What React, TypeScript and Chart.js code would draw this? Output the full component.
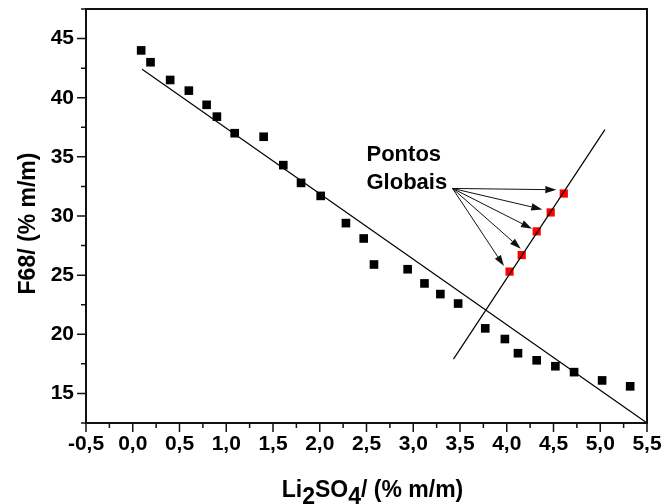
import React, { useEffect, useRef } from 'react';
import { Chart, registerables } from 'chart.js';

Chart.register(...registerables);

// ---- data ----
const X_BLACK = [0.09, 0.19, 0.40, 0.60, 0.79, 0.90, 1.09, 1.40, 1.61, 1.80, 2.01, 2.28, 2.47, 2.58, 2.94, 3.12, 3.29, 3.48, 3.77, 3.98, 4.12, 4.32, 4.52, 4.72, 5.02, 5.32];
const Y_BLACK = [44.0, 43.0, 41.5, 40.6, 39.4, 38.4, 37.0, 36.7, 34.3, 32.8, 31.7, 29.4, 28.1, 25.9, 25.5, 24.3, 23.4, 22.6, 20.5, 19.6, 18.4, 17.8, 17.3, 16.8, 16.1, 15.6];
const X_RED = [4.03, 4.16, 4.32, 4.47, 4.61];
const Y_RED = [25.3, 26.7, 28.7, 30.3, 31.9];
const FIT_X = [0.10, 5.5];
const FIT_Y = [42.4, 12.5];
const TIE_X = [3.43, 5.05];
const TIE_Y = [17.9, 37.3];
const ARROW_FROM_X = 3.42;
const ARROW_FROM_Y = 32.33;
const ARROW_TO_X = [4.53, 4.38, 4.27, 4.15, 3.97];
const ARROW_TO_Y = [32.22, 30.56, 28.93, 27.24, 25.77];
const X_TICKS = [-0.5, 0, 0.5, 1, 1.5, 2, 2.5, 3, 3.5, 4, 4.5, 5, 5.5];
const Y_TICKS = [15, 20, 25, 30, 35, 40, 45];
const X_MIN = -0.5, X_MAX = 5.5;
const Y_MIN = 12.5, Y_MAX = 47.5;
const NOTE_LINES = ['Pontos', 'Globais'];
const NOTE_X = 2.5;
const NOTE_Y = [34.69, 32.28];
const Y_TITLE = 'F68/ (% m/m)';
const X_TITLE_PARTS = [
  { t: 'Li', sub: false },
  { t: '2', sub: true },
  { t: 'SO', sub: false },
  { t: '4', sub: true },
  { t: '/ (% m/m)', sub: false },
];

const FAMILY = "'Liberation Sans', Arial, Helvetica, sans-serif";
const toPts = (xs: number[], ys: number[]) => xs.map((x, i) => ({ x, y: ys[i] }));
const fmt = (v: number) => v.toFixed(1).replace('.', ',');

const decorPlugin = {
  id: 'decor',
  afterDatasetsDraw(chart: any) {
    const { ctx, chartArea: a, scales } = chart;
    const xs = scales.x, ys = scales.y;
    ctx.save();
    ctx.strokeStyle = '#111';
    ctx.fillStyle = '#111';
    // frame
    ctx.lineWidth = 2;
    ctx.strokeRect(a.left, a.top, a.right - a.left, a.bottom - a.top);
    // x ticks (major + minor)
    ctx.lineWidth = 1.5;
    ctx.beginPath();
    X_TICKS.forEach((v, i) => {
      const px = xs.getPixelForValue(v);
      ctx.moveTo(px, a.bottom);
      ctx.lineTo(px, a.bottom + 9);
      if (i < X_TICKS.length - 1) {
        const m = xs.getPixelForValue((v + X_TICKS[i + 1]) / 2);
        ctx.moveTo(m, a.bottom);
        ctx.lineTo(m, a.bottom + 5);
      }
    });
    // y ticks
    const yMinor = [Y_MIN, Y_MAX];
    Y_TICKS.forEach((v, i) => {
      const py = ys.getPixelForValue(v);
      ctx.moveTo(a.left, py);
      ctx.lineTo(a.left - 9, py);
      if (i < Y_TICKS.length - 1) yMinor.push((v + Y_TICKS[i + 1]) / 2);
    });
    yMinor.forEach((v) => {
      const py = ys.getPixelForValue(v);
      ctx.moveTo(a.left, py);
      ctx.lineTo(a.left - 5, py);
    });
    ctx.stroke();

    // arrows
    const ox = xs.getPixelForValue(ARROW_FROM_X);
    const oy = ys.getPixelForValue(ARROW_FROM_Y);
    ctx.lineWidth = 1;
    ARROW_TO_X.forEach((tx0, i) => {
      const tx = xs.getPixelForValue(tx0);
      const ty = ys.getPixelForValue(ARROW_TO_Y[i]);
      const ang = Math.atan2(ty - oy, tx - ox);
      const L = 11, W = 3.6;
      const bx = tx - L * Math.cos(ang), by = ty - L * Math.sin(ang);
      ctx.beginPath();
      ctx.moveTo(ox, oy);
      ctx.lineTo(bx, by);
      ctx.stroke();
      ctx.beginPath();
      ctx.moveTo(tx, ty);
      ctx.lineTo(bx + W * Math.sin(ang), by - W * Math.cos(ang));
      ctx.lineTo(bx - W * Math.sin(ang), by + W * Math.cos(ang));
      ctx.closePath();
      ctx.fill();
    });

    // note text
    ctx.fillStyle = '#000';
    ctx.font = `bold 22px ${FAMILY}`;
    ctx.textAlign = 'left';
    ctx.textBaseline = 'alphabetic';
    NOTE_LINES.forEach((t, i) => {
      ctx.fillText(t, xs.getPixelForValue(NOTE_X), ys.getPixelForValue(NOTE_Y[i]));
    });

    // y title
    ctx.save();
    ctx.font = `bold 23px ${FAMILY}`;
    ctx.translate(34.5, (a.top + a.bottom) / 2 + 7.5);
    ctx.rotate(-Math.PI / 2);
    ctx.textAlign = 'center';
    ctx.fillText(Y_TITLE, 0, 0);
    ctx.restore();

    // x title with subscripts
    ctx.font = `bold 23px ${FAMILY}`;
    const widths = X_TITLE_PARTS.map((p) => ctx.measureText(p.t).width);
    const total = widths.reduce((s, w) => s + w, 0);
    let cx = (a.left + a.right) / 2 + 6 - total / 2;
    const base = a.bottom + 73.5;
    X_TITLE_PARTS.forEach((p, i) => {
      ctx.fillText(p.t, cx, p.sub ? base + 7.5 : base);
      cx += widths[i];
    });
    ctx.restore();
  },
};

export default function App() {
  const ref = useRef<HTMLCanvasElement | null>(null);
  useEffect(() => {
    if (!ref.current) return;
    const tickFont = { family: FAMILY, size: 21, weight: 'bold' as const };
    const chart = new Chart(ref.current, {
      type: 'scatter',
      data: {
        datasets: [
          {
            type: 'line',
            data: toPts(FIT_X, FIT_Y),
            borderColor: '#000',
            borderWidth: 1.2,
            pointRadius: 0,
            fill: false,
          },
          {
            type: 'line',
            data: toPts(TIE_X, TIE_Y),
            borderColor: '#000',
            borderWidth: 1.2,
            pointRadius: 0,
            fill: false,
          },
          {
            data: toPts(X_BLACK, Y_BLACK),
            pointStyle: 'rect',
            pointRadius: 6.1,
            borderWidth: 0,
            backgroundColor: '#000',
          },
          {
            data: toPts(X_RED, Y_RED),
            pointStyle: 'rect',
            pointRadius: 5.8,
            borderWidth: 0,
            backgroundColor: '#ff0000',
          },
        ],
      },
      options: {
        animation: false,
        responsive: false,
        devicePixelRatio: 1,
        layout: { padding: { left: 0, right: 18, top: 9, bottom: 0 } },
        plugins: { legend: { display: false }, tooltip: { enabled: false } },
        scales: {
          x: {
            type: 'linear',
            min: X_MIN,
            max: X_MAX,
            grid: { display: false, drawTicks: false },
            border: { display: false },
            ticks: { font: tickFont, color: '#000', padding: 9, maxRotation: 0, autoSkip: false, callback: (v: any) => fmt(Number(v)) },
            afterBuildTicks: (s: any) => { s.ticks = X_TICKS.map((value) => ({ value })); },
            afterFit: (s: any) => { s.height = 81; s.paddingLeft = 0; s.paddingRight = 0; },
          },
          y: {
            type: 'linear',
            min: Y_MIN,
            max: Y_MAX,
            grid: { display: false, drawTicks: false },
            border: { display: false },
            ticks: { font: tickFont, color: '#000', padding: 12, autoSkip: false, callback: (v: any) => String(v) },
            afterBuildTicks: (s: any) => { s.ticks = Y_TICKS.map((value) => ({ value })); },
            afterFit: (s: any) => { s.width = 86; s.paddingTop = 0; s.paddingBottom = 0; },
          },
        },
      },
      plugins: [decorPlugin],
    });
    return () => chart.destroy();
  }, []);
  return (
    <div style={{ position: 'fixed', left: 0, top: 0, width: 665, height: 504, background: '#fff' }}>
      <canvas ref={ref} width={665} height={504} style={{ width: 665, height: 504, display: 'block' }} />
    </div>
  );
}
